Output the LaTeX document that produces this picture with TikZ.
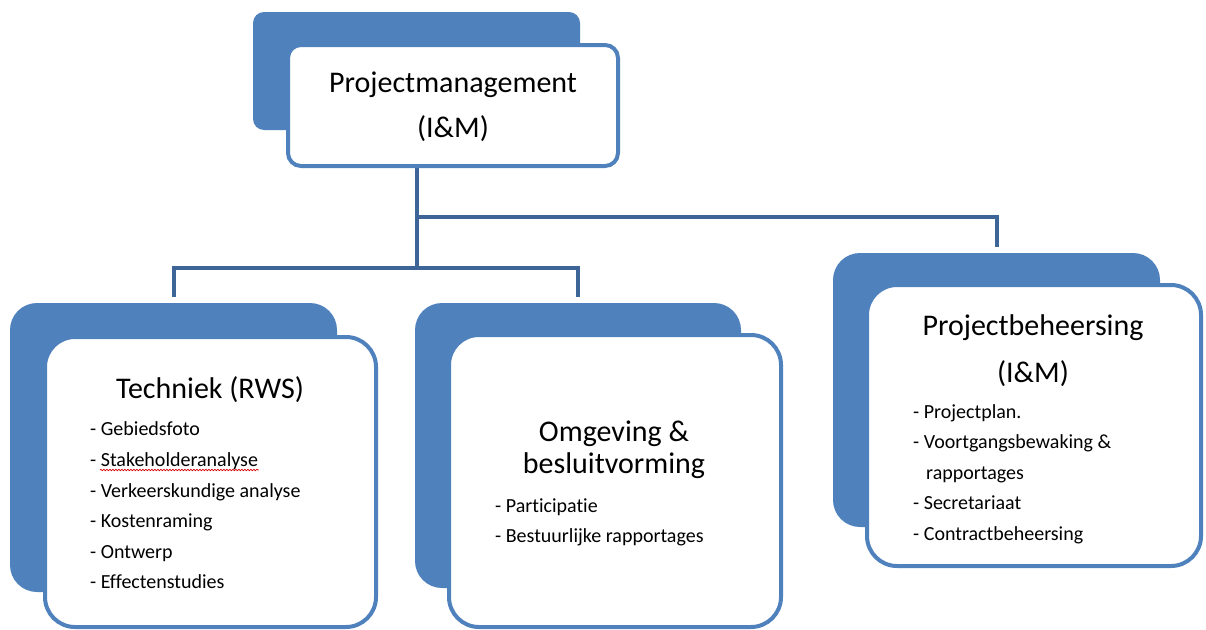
\documentclass[tikz,border=0pt]{standalone}
\usepackage{fontspec}
\setmainfont{Carlito}[Ligatures={NoCommon}]
\usetikzlibrary{decorations.pathmorphing}
\definecolor{acc}{RGB}{79,129,189}
\definecolor{conncol}{RGB}{62,101,151}
\begin{document}
\begin{tikzpicture}[x=1pt,y=-1pt,
  backbox/.style={fill=acc, draw=none, inner sep=0pt, outer sep=0pt},
  frontbox/.style={fill=white, draw=acc, line width=4pt, inner sep=0pt, outer sep=0pt},
  conn/.style={draw=conncol, line width=4pt},
  ttl/.style={font=\fontsize{30}{30}\selectfont, anchor=base, inner sep=0pt, text=black},
  itm/.style={font=\fontsize{20}{24}\selectfont, anchor=base west, inner sep=0pt, text=black}]
\useasboundingbox (0,0) rectangle (1206,629);
% back shapes
\node[backbox, rounded corners=11pt, minimum width=327pt, minimum height=118pt] (pmb) at (416.5,71) {};
\node[backbox, rounded corners=27pt, minimum width=327pt, minimum height=289pt] (tbb) at (173.5,447.5) {};
\node[backbox, rounded corners=27pt, minimum width=326pt, minimum height=285pt] (obb) at (578,445.5) {};
\node[backbox, rounded corners=27pt, minimum width=327pt, minimum height=274pt] (pbb) at (996.5,390) {};
% connectors
\coordinate (j1) at (pmb.south |- 0,268);
\coordinate (j2) at (pmb.south |- 0,217);
\draw[conn] (pmb.south) -- (j1);
\draw[conn] ([yshift=6pt]tbb.north) |- (j1) -| ([yshift=6pt]obb.north);
\draw[conn] (j2) -| ([yshift=6pt]pbb.north);
% front boxes
\node[frontbox, rounded corners=13pt, minimum width=330pt, minimum height=121pt] (pm) at (453,105.5) {};
\node[frontbox, rounded corners=30pt, minimum width=331pt, minimum height=290pt] (tb) at (210.5,482) {};
\node[frontbox, rounded corners=30pt, minimum width=332pt, minimum height=292pt] (ob) at (615,481) {};
\node[frontbox, rounded corners=30pt, minimum width=334pt, minimum height=281pt] (pb) at (1034,425.5) {};
% titles
\node[ttl] (pmt1) at (453,92) {Projectmanagement};
\node[ttl] (pmt2) at (453,137) {(I\&M)};
\node[ttl] (tbt) at (210,398) {Techniek (RWS)};
\node[ttl] (obt1) at (614,441) {Omgeving \&};
\node[ttl] (obt2) at (614,473) {besluitvorming};
\node[ttl] (pbt1) at (1033,335) {Projectbeheersing};
\node[ttl] (pbt2) at (1033,382) {(I\&M)};
% items
\node[itm] (t1) at (90,435) {- Gebiedsfoto};
\node[itm] (t2) at (90,466) {- Stakeholderanalyse};
\node[itm] (t3) at (90,497) {- Verkeerskundige analyse};
\node[itm] (t4) at (90,527) {- Kostenraming};
\node[itm] (t5) at (90,558) {- Ontwerp};
\node[itm] (t6) at (90,588) {- Effectenstudies};
\draw[red!85!black, line width=0.7pt, decorate, decoration={snake, amplitude=0.7pt, segment length=3pt}] (100,470) -- (259,470);
\node[itm] (o1) at (495,512) {- Participatie};
\node[itm] (o2) at (495,542) {- Bestuurlijke rapportages};
\node[itm] (p1) at (913,418) {- Projectplan.};
\node[itm] (p2) at (913,448) {- Voortgangsbewaking \&};
\node[itm] (p3) at (926,479) {rapportages};
\node[itm] (p4) at (913,509) {- Secretariaat};
\node[itm] (p5) at (913,540) {- Contractbeheersing};
\end{tikzpicture}
\end{document}
